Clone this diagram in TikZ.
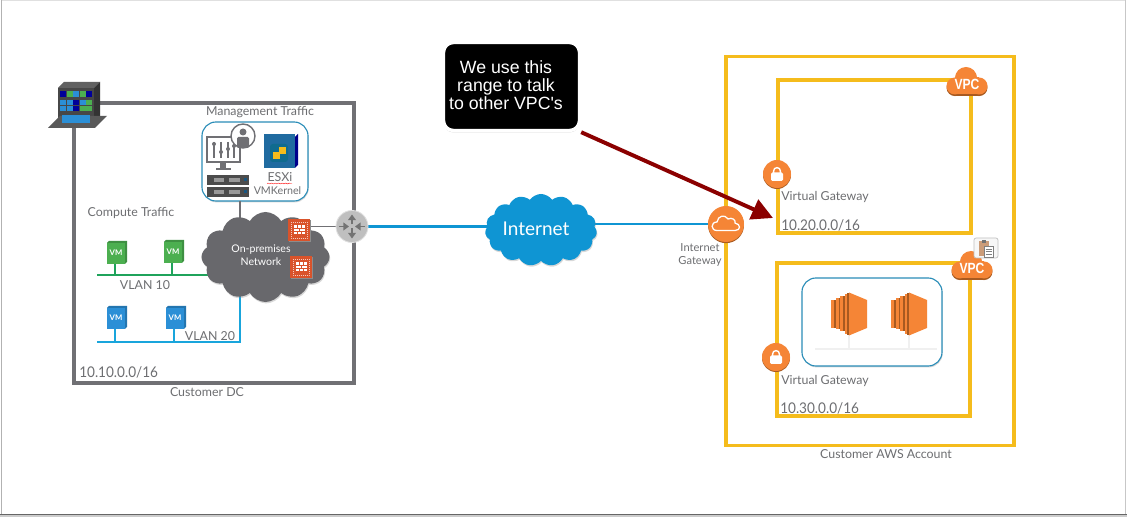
\documentclass[tikz,border=0pt]{standalone}
\usepackage{fontspec}
\setmainfont{Lato}
\newfontfamily\arialfont{Liberation Sans}
\usetikzlibrary{arrows.meta, backgrounds, decorations.pathmorphing, shadows, shapes.symbols}
\definecolor{labelgray}{HTML}{6D6E71}
\definecolor{dcgray}{HTML}{707074}
\definecolor{cloudgray}{HTML}{68686C}
\definecolor{awsyellow}{HTML}{F5BC1C}
\definecolor{awsorange}{HTML}{F58536}
\definecolor{awsbrown}{HTML}{A85A20}
\definecolor{netblue}{HTML}{0F95D3}
\definecolor{boxblue}{HTML}{2A8DB8}
\definecolor{vmgreen}{HTML}{4CAF50}
\definecolor{vlangreen}{HTML}{1FA35B}
\definecolor{vmblue}{HTML}{2B8FD6}
\definecolor{vlanblue}{HTML}{19A5DC}
\definecolor{fwred}{HTML}{D9532B}
\definecolor{arrowred}{HTML}{8B0000}
\newcommand{\vpcblob}[1]{%
  \fill[#1] (-1,-3) circle (11) (-12,5) circle (8.5) (12,5) circle (8.5);
  \fill[#1] (-12,-3.5) rectangle (12,13.5);
}
\tikzset{
  softshadow/.style={drop shadow={opacity=0.3, shadow xshift=0.5pt, shadow yshift=-1pt}},
  frame/.style={rectangle, inner sep=0, fill=white, softshadow},
  dcframe/.style={frame, draw=dcgray, line width=2.3pt},
  awsframe/.style={frame, draw=awsyellow, line width=2.2pt},
  roundbox/.style={frame, draw=boxblue, line width=0.8pt, rounded corners=0.35cm},
  lbl/.style={text=labelgray, font=\fontsize{8.8}{10}\selectfont, align=center, inner sep=0},
  addr/.style={text=labelgray, font=\fontsize{10.5}{12}\selectfont, anchor=west, inner sep=0, xscale=0.92},
  vlanline/.style={line width=1.4pt},
  pics/vmicon/.style={code={
    \fill[#1!82!black] (-9,-9)--(-7,-11)--(11,-11)--(11,10)--(9,12)--(9,-9)--cycle;
    \fill[#1] (-9,-9) rectangle (9,12);
    \node[text=white, font=\bfseries\fontsize{5.5}{6}\selectfont, inner sep=0] (-txt) at (0,1) {VM};
    \coordinate (-base) at (-1,12);
  }},
  pics/fwicon/.style={code={
    \fill[black!45] (-10,-10) rectangle (12,12);
    \fill[fwred] (-11,-11) rectangle (11,11);
    \draw[white!70!fwred, densely dotted, line width=0.4pt] (-8,-8) rectangle (8,8);
    \fill[white] (-5.5,-4.5) rectangle (5.5,4.5);
    \draw[fwred, line width=0.5pt] (-5.5,-1.5)--(5.5,-1.5) (-5.5,1.5)--(5.5,1.5)
      (-2,-4.5)--(-2,-1.5) (2,-4.5)--(2,-1.5) (0,-1.5)--(0,1.5) (-2,1.5)--(-2,4.5) (2,1.5)--(2,4.5);
  }},
  pics/ecicon/.style={code={
    \foreach \x/\h in {-18/14, -13.5/15.5, -9/17.5, -4.5/20} {
      \fill[awsorange] (\x,-\h) rectangle (\x+3.2,\h);
      \fill[awsbrown] (\x+3.2,-\h) rectangle (\x+4.5,\h);
    }
    \fill[awsbrown] (-2,-21) rectangle (0,21);
    \fill[awsorange] (0,-21.5)--(18,-14)--(18,14)--(0,21.5)--cycle;
    \coordinate (-base) at (0,16);
  }},
  pics/lockicon/.style={code={
    \fill[awsbrown] (0,1) circle (14);
    \fill[awsorange] (0,0) circle (14);
    \draw[white, line width=1pt] (-3.4,0)--(-3.4,-3) arc (180:360:3.4)--(3.4,0);
    \fill[white, rounded corners=1pt] (-6,-1.5) rectangle (6,7);
  }},
  pics/vpcicon/.style={code={
    \begin{scope}[yshift=-0.04cm]
      \vpcblob{awsbrown}
    \end{scope}
    \vpcblob{awsorange}
    \node[text=white, font=\arialfont\bfseries\fontsize{10.5}{11}\selectfont, xscale=0.82, inner sep=0] (-txt) at (0,3) {VPC};
  }},
}
\begin{document}
\begin{tikzpicture}[x=0.025cm, y=-0.025cm]
\useasboundingbox (0,0) rectangle (1127,517);
\begin{scope}[on background layer]
\fill[white] (0,0) rectangle (1127,517);
\draw[black!12, line width=1pt] (1.5,0.5)--(1125.5,0.5);
\draw[black!30, line width=1.4pt] (1.5,0)--(1.5,515);
\draw[black!22, line width=1.4pt] (1125.5,0)--(1125.5,515);
\draw[black!20, line width=2pt] (0,516)--(1127,516);
\draw[black!60, line width=0.8pt] (0,514.5)--(1127,514.5);
\node[dcframe, minimum width=7cm, minimum height=7cm] (dcbox) at (214,243) {};
\node[awsframe, minimum width=7.2cm, minimum height=9.7cm] (awsbox) at (870,251) {};
\node[awsframe, minimum width=4.825cm, minimum height=3.825cm] (vpcabox) at (874.5,156.5) {};
\node[awsframe, minimum width=4.825cm, minimum height=3.825cm] (vpcbbox) at (873.5,339.5) {};
\node[roundbox, minimum width=2.65cm, minimum height=1.975cm] (mgmtbox) at (255,161.5) {};
\node[roundbox, minimum width=3.5cm, minimum height=2.2cm] (ecbox) at (872,322) {};
\end{scope}

\coordinate (mgmtdrop) at (240,201);
\coordinate (vlanastart) at (97,275);
\coordinate (vlanbstart) at (97,342);
\coordinate (vlanbup) at (240,285);
\coordinate (ecbarstart) at (815,349);
\coordinate (ecbarend) at (937,349);
\coordinate (calloutend) at (773,218);

\node[cloud, cloud puffs=12, cloud puff arc=120, cloud ignores aspect, inner sep=0, minimum width=3.2cm, minimum height=2.25cm, fill=cloudgray, softshadow] (premcloud) at (265.5,257) {};
\node[cloud, cloud puffs=15, cloud puff arc=110, cloud ignores aspect, inner sep=0, minimum width=2.8cm, minimum height=1.8cm, fill=netblue, softshadow] (netcloud) at (541,230) {};
\node[circle, inner sep=0, minimum size=0.8cm, fill=black!25, draw=black!12, line width=0.6pt] (router) at (352,226.5) {};
\node[circle, inner sep=0, minimum size=0.9cm, fill=awsorange, drop shadow={fill=awsbrown, opacity=1, shadow xshift=0pt, shadow yshift=-0.8pt}] (igw) at (726,224) {};
\draw[white, line width=0.9pt, shift={(igw)}] (-9,6.5) .. controls (-15.5,6.5) and (-15.5,-2) .. (-9,-2) .. controls (-8,-8.5) and (-1,-10) .. (2,-5) .. controls (6,-7) and (10,-4) .. (9,-1) .. controls (15,0) and (15,6.5) .. (9,6.5) -- cycle;

\foreach \d in {90,270} {
  \draw[black!55, line width=1.2pt, -{Triangle[length=4pt, width=5.5pt]}, shift={(router)}, rotate=\d] (2,0)--(12,0);
}
\foreach \d in {0,180} {
  \draw[black!55, line width=1.2pt, -{Triangle[length=4pt, width=5.5pt]}, shift={(router)}, rotate=\d] (13,0)--(3,0);
}

\node[rectangle, rounded corners=0.25cm, inner sep=0, minimum width=3.4cm, minimum height=2.2cm, fill=black, draw=white, line width=2.4pt, drop shadow={opacity=0.35, shadow xshift=0pt, shadow yshift=-1.4pt}] (callout) at (511.5,86.5) {};
\node[text=white, font=\arialfont\fontsize{12.6}{12.8}\selectfont, align=center, inner sep=0] (callouttext) at (506,85) {We use this\\range to talk\\to other VPC's};

\pic (fwa) at (299,230) {fwicon};
\pic (fwb) at (301,267) {fwicon};
\pic (vmga) at (116,252) {vmicon=vmgreen};
\pic (vmgb) at (173,251) {vmicon=vmgreen};
\pic (vmba) at (116,317) {vmicon=vmblue};
\pic (vmbb) at (175,317) {vmicon=vmblue};
\pic (eca) at (849,314) {ecicon};
\pic (ecb) at (909,314) {ecicon};
\pic (locka) at (777,174) {lockicon};
\pic (lockb) at (776,357) {lockicon};
\pic (vpca) at (967,81) {vpcicon};
\pic (vpcb) at (972,265) {vpcicon};

\begin{scope}[on background layer]
\draw[dcgray, line width=1pt] (mgmtdrop)--(mgmtdrop |- premcloud);
\draw[dcgray, line width=1.2pt] (premcloud |- router)--(router);
\draw[vlangreen, vlanline] (vlanastart)--(vlanastart -| premcloud);
\draw[vlangreen, vlanline] (vmga-base)--(vmga-base |- vlanastart);
\draw[vlangreen, vlanline] (vmgb-base)--(vmgb-base |- vlanastart);
\draw[vlanblue, vlanline] (vlanbstart)-|(vlanbup);
\draw[vlanblue, vlanline] (vmba-base)--(vmba-base |- vlanbstart);
\draw[vlanblue, vlanline] (vmbb-base)--(vmbb-base |- vlanbstart);
\draw[netblue, line width=1.6pt] (router)--(router -| netcloud);
\draw[netblue, line width=1.6pt] (igw)--(igw -| netcloud);
\draw[black!6, line width=1pt] (ecbarstart)--(ecbarend);
\draw[black!6, line width=1pt] (eca-base)--(eca-base |- ecbarstart);
\draw[black!6, line width=1pt] (ecb-base)--(ecb-base |- ecbarstart);
\end{scope}

\draw[arrowred, line width=2.8pt, -{Triangle[length=15pt, width=15pt]}] (callout.south east)--(calloutend);

\begin{scope}[shift={(48,82)}]
\fill[black!62] (10,6)--(16,0)--(52,0)--(46,6)--cycle;
\fill[black!72] (10,6) rectangle (46,40);
\fill[black!80] (46,6)--(52,0)--(52,34)--(46,40)--cycle;
\foreach \x/\c in {12/blue!60!black, 18.5/vmgreen, 25/vmblue, 31.5/vmgreen, 38/blue!60!black} {
  \fill[\c] (\x,9) rectangle (\x+6,15.5);
}
\foreach \x/\c/\e in {12/vmblue/vmblue, 18.5/vmblue/vmblue, 25/blue!60!black/blue!60!black, 31.5/vmblue/vmgreen, 38/vmgreen/vmgreen} {
  \fill[\c] (\x,18.5) rectangle (\x+6,23.5);
  \fill[\e] (\x,24.5) rectangle (\x+6,29.5);
}
\fill[black!65] (0,46)--(12,34)--(59,34)--(47,46)--cycle;
\fill[vmblue] (14,33) rectangle (42,41);
\end{scope}

\begin{scope}[shift={(202,122)}]
\draw[dcgray, line width=0.9pt, fill=white] (5,15) rectangle (38,40);
\fill[dcgray] (18,40) rectangle (24,46);
\draw[dcgray, line width=1pt] (14,47)--(29,47);
\foreach \x/\y in {12/22, 19/30, 26/27, 32/24} {
  \draw[dcgray, line width=0.8pt] (\x,20)--(\x,36);
  \fill[dcgray] (\x,\y) circle (2);
}
\draw[dcgray, line width=1pt, fill=white] (41,14) circle (12);
\fill[dcgray] (41,10) circle (3.5);
\fill[dcgray, rounded corners=1pt] (35,15) rectangle (47,26);
\foreach \y in {53,65} {
  \fill[black!70] (5,\y) rectangle (47,\y+10);
  \fill[black!40] (12,\y+3) rectangle (22,\y+7);
  \fill[black!40] (27,\y+3) rectangle (38,\y+7);
  \fill[vmblue!60!black] (42,\y+3) rectangle (45,\y+6);
}
\fill[blue!55!black] (93,15)--(96,12)--(96,43)--(93,46)--cycle;
\fill[vmblue!75!black] (62,12) rectangle (93,46);
\fill[black!35!vlanblue, rounded corners=2pt] (68,22) rectangle (86,40);
\fill[awsyellow] (71,30) rectangle (78,37);
\fill[awsyellow] (77,25) rectangle (84,32);
\end{scope}

\draw[red, line width=0.3pt, decorate, decoration={snake, amplitude=0.3pt, segment length=2.5pt}] (267,183.5)--(292,183.5);

\node[lbl] (mgmtlbl) at (260,112) {Management Traffic};
\node[lbl] (computelbl) at (131,213) {Compute Traffic};
\node[lbl] (esxilbl) at (280,177) {ESXi};
\node[lbl, font=\fontsize{7.6}{9}\selectfont] (kernellbl) at (277.5,191) {VMKernel};
\node[lbl, text=white, font=\fontsize{7.5}{9}\selectfont] (premlbl) at (261,255) {On-premises\\Network};
\node[lbl] (vlanalbl) at (145,285) {VLAN 10};
\node[lbl] (vlanblbl) at (210,336) {VLAN 20};
\node[lbl] (dclbl) at (207,392) {Customer DC};
\node[addr] (dcaddr) at (79,372) {10.10.0.0/16};
\node[lbl, text=white, font=\fontsize{13.5}{15}\selectfont] (netlbl) at (536,229) {Internet};
\node[lbl, font=\fontsize{7.9}{8.6}\selectfont] (igwlbl) at (700,255) {Internet\\Gateway};
\node[lbl] (vgwalbl) at (825,197) {Virtual Gateway};
\node[lbl] (vgwblbl) at (825,381) {Virtual Gateway};
\node[addr] (vpcaaddr) at (781,225) {10.20.0.0/16};
\node[addr] (vpcbaddr) at (780,408) {10.30.0.0/16};
\node[lbl] (awslbl) at (886,454) {Customer AWS Account};

\begin{scope}[shift={(974,238)}]
\draw[black!25, fill=black!3, rounded corners=1.5pt, line width=0.5pt] (0,0) rectangle (24,20);
\fill[awsbrown!60!white] (5,3.5) rectangle (15,18);
\fill[black!55] (8,2) rectangle (12,5);
\draw[black!50, fill=white, line width=0.3pt] (10,8) rectangle (19,19);
\draw[black!50, line width=0.3pt] (11.5,11)--(17.5,11) (11.5,13.5)--(17.5,13.5) (11.5,16)--(17.5,16);
\end{scope}
\end{tikzpicture}
\end{document}
